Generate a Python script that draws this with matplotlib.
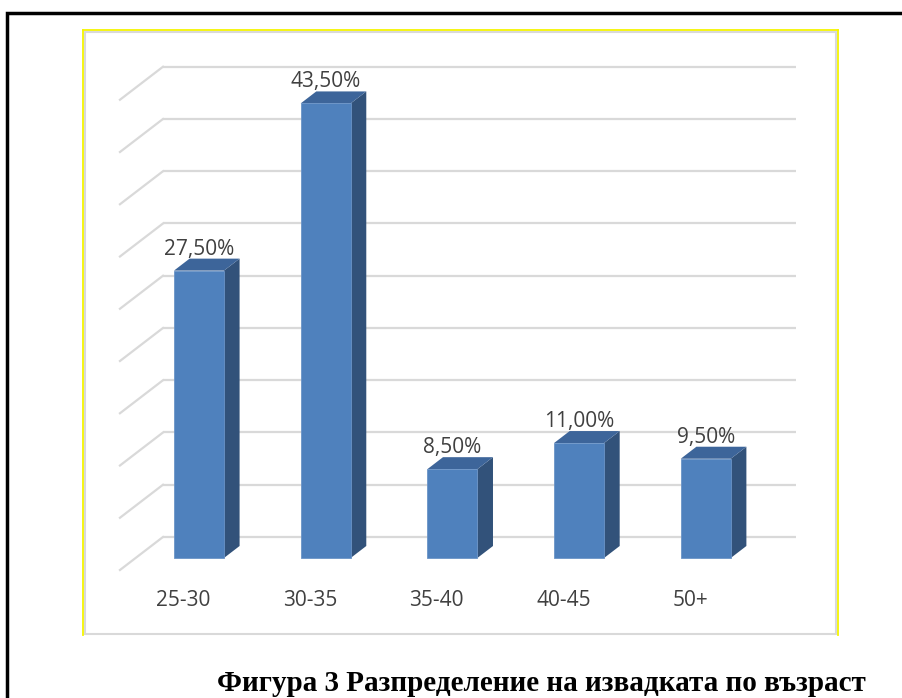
import matplotlib
matplotlib.use("Agg")
import matplotlib.pyplot as plt
from matplotlib.patches import Polygon, Rectangle
from matplotlib.lines import Line2D

categories = ["25-30", "30-35", "35-40", "40-45", "50+"]
values = [27.5, 43.5, 8.5, 11.0, 9.5]
grid_values = [0, 5, 10, 15, 20, 25, 30, 35, 40, 45]
caption = "Фигура 3 Разпределение на извадката по възраст"

W, H = 902, 698
fig = plt.figure(figsize=(W / 100, H / 100), dpi=100)

# pixel layout of the fake 3D chart
sx = 126.7      # px per category
sy = 10.45      # px per percent
x0 = 135.6      # px of x = -0.5 on bar front plane
y0 = 558.0      # px of value 0 on bar front plane
slope = 43 / 33  # oblique depth direction dx/dy
box = (83, 30, 838, 635)  # left, top, right, bottom (px)

ax = fig.add_axes([box[0] / W, 1 - box[3] / H, (box[2] - box[0]) / W, (box[3] - box[1]) / H])
ax.set_xlim(-0.5 + (box[0] - x0) / sx, -0.5 + (box[2] - x0) / sx)
ax.set_ylim((y0 - box[3]) / sy, (y0 - box[1]) / sy)
ax.axis("off")


def depth(d):
    # offset in data units for d px of depth
    return d * slope / sx, d / sy


bx, by = depth(21)   # back wall behind bar front
fx, fy = depth(-12)  # front edge of floor
dx, dy = depth(12)   # bar depth

n = len(categories)
for g in grid_values:
    ax.plot([-0.5 + bx, n - 0.5 + bx], [g + by, g + by], color="#d9d9d9", lw=1.6,
            solid_capstyle="butt", zorder=1)
    ax.plot([-0.5 + fx, -0.5 + bx], [g + fy, g + by], color="#d9d9d9", lw=1.6, zorder=1)

w = 50 / sx
front_c = "#4f81bd"
side_c = "#32527a"
top_c = "#3d659a"
for i, v in enumerate(values):
    l, r = i - w / 2, i + w / 2
    ax.add_patch(Polygon([(r, 0), (r + dx, dy), (r + dx, v + dy), (r, v)],
                         closed=True, facecolor=side_c, edgecolor="none", zorder=3))
    ax.add_patch(Polygon([(l, v), (r, v), (r + dx, v + dy), (l + dx, v + dy)],
                         closed=True, facecolor=top_c, edgecolor="none", zorder=3))
    ax.add_patch(Rectangle((l, 0), w, v, facecolor=front_c, edgecolor="#6b94c7",
                           lw=0.6, zorder=4))
    ax.text(i, v + dy + 4 / sy, f"{v:.2f}%".replace(".", ","), ha="center", va="baseline",
            fontsize=15, color="#404040", family="Open Sans", zorder=5)
    ax.text(i + fx, (y0 - 600) / sy, categories[i], ha="center", va="center",
            fontsize=15, color="#404040", family="Open Sans", zorder=5)

# chart frame: gray inner border, yellow on top/left/right
ax.add_artist(Rectangle((0.002, 0.001), 0.996, 0.996, transform=ax.transAxes, fill=False,
                        edgecolor="#d9d9d9", lw=1.5, clip_on=False))
for xs, ys in [([box[0], box[0]], [box[3], box[1]]), ([box[0], box[2]], [box[1], box[1]]),
               ([box[2], box[2]], [box[1], box[3]])]:
    fig.add_artist(Line2D([x / W for x in xs], [1 - y / H for y in ys], color="#f5f500", lw=1.3))

# black page frame
fig.add_artist(Line2D([7 / W, 7 / W, 1], [0, 1 - 13 / H, 1 - 13 / H], color="black", lw=2.5,
                      solid_joinstyle="miter"))

fig.text(217 / W, 1 - 691 / H, caption, ha="left", va="baseline", fontsize=21,
         fontweight="bold", family="Liberation Serif", color="black")

fig.savefig("out.png", dpi=100)
